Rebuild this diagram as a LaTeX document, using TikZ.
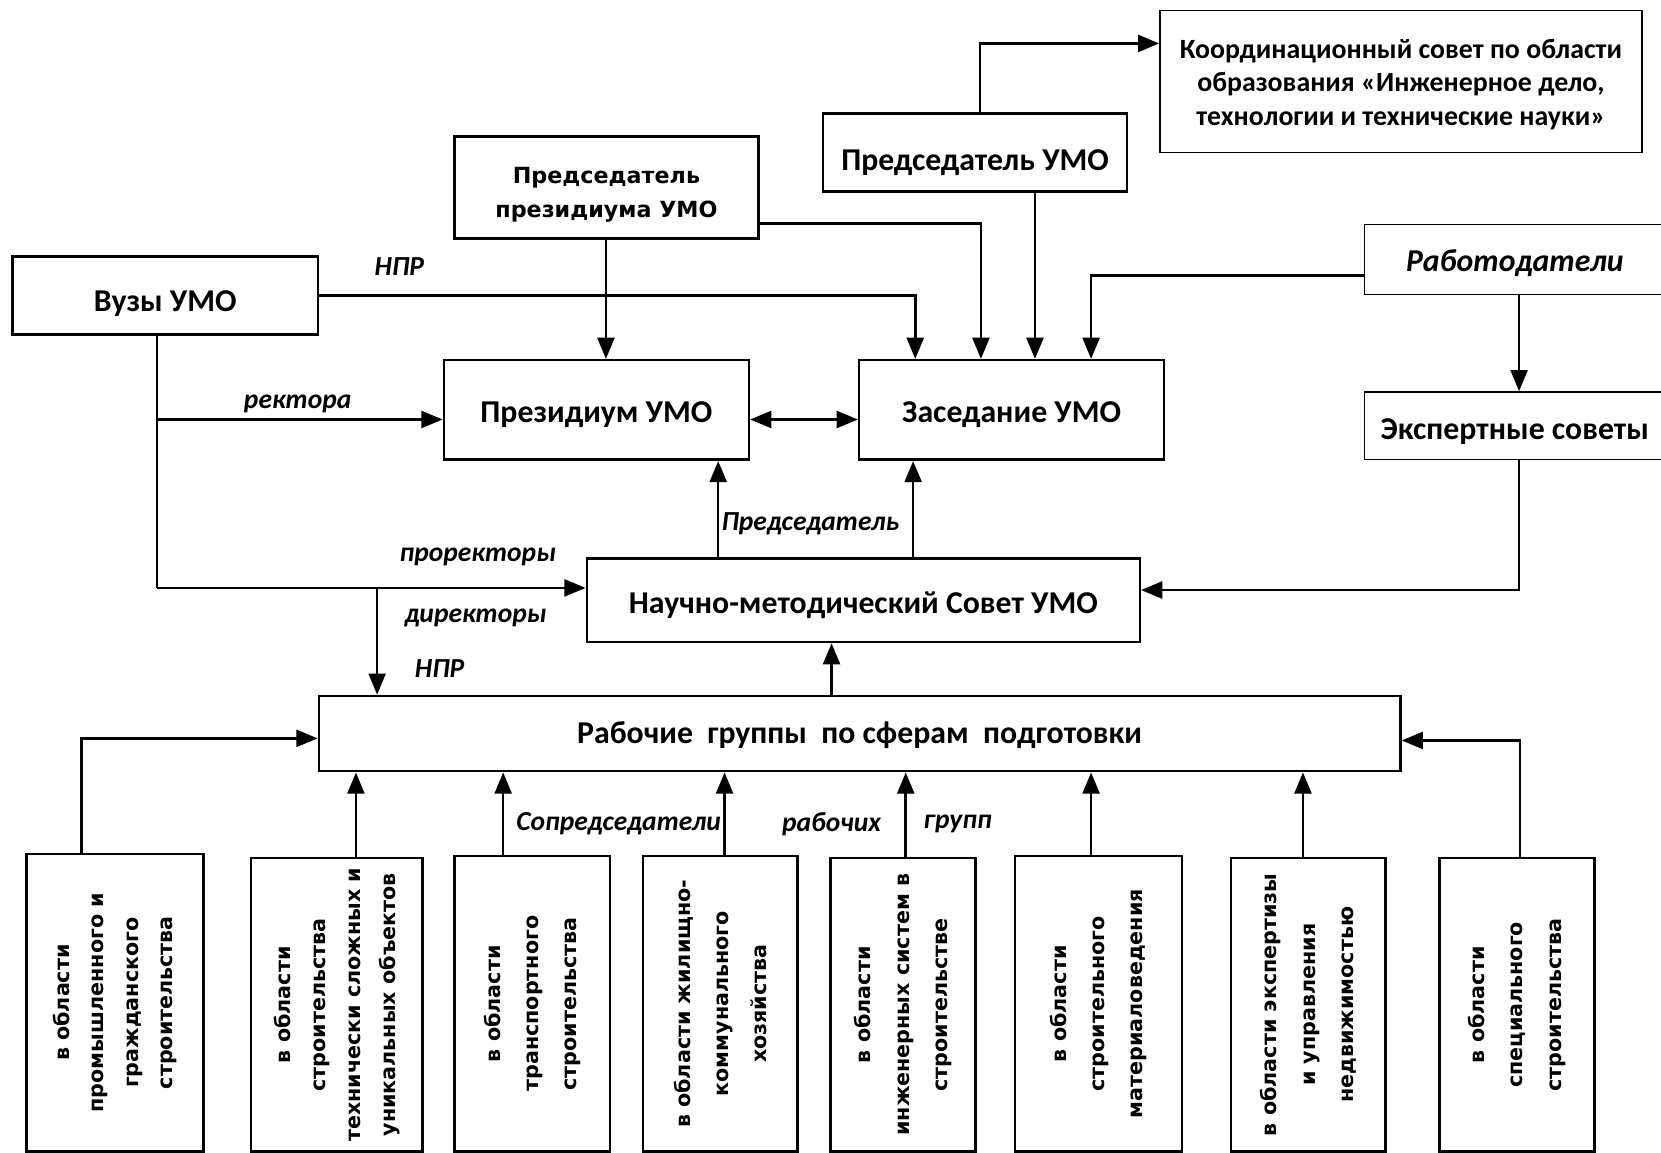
\documentclass[tikz,border=0pt]{standalone}
\usepackage{fontspec}
\setmainfont{Carlito}
\newfontfamily\verd{DejaVu Sans}
\usetikzlibrary{arrows.meta}

\begin{document}
\begin{tikzpicture}[x=1pt,y=-1pt,
	box/.style={draw, line width=2.4pt, inner sep=0pt, align=center, font=\fontsize{30}{34}\selectfont\bfseries},
	thinbox/.style={box, line width=1.4pt},
	tx/.style={text height=#1, text depth=0pt},
	vbox/.style={draw, line width=2.4pt, inner sep=0pt, align=center, rotate=90, font=\verd\bfseries\fontsize{19.5}{36}\selectfont},
	lbl/.style={inner sep=0pt, font=\fontsize{26}{30}\selectfont\bfseries\itshape},
	arr/.style={line width=2.4pt, -{Triangle[length=20pt,width=16pt]}},
	dbl/.style={line width=2.4pt, {Triangle[length=20pt,width=16pt]}-{Triangle[length=20pt,width=16pt]}}]
	\useasboundingbox (0,0) rectangle (1568,1088);
	
	%Upper boxes
	\node[thinbox, tx=82pt, minimum width=455pt, minimum height=134pt, font=\fontsize{26.3}{31.5}\selectfont\bfseries] (koord) at (1322.5,77)
		{\begin{tabular}[b]{@{}c@{}}Координационный совет по области\\образования «Инженерное дело,\\технологии и технические науки»\end{tabular}};
	\node[box, tx=33pt, minimum width=287pt, minimum height=74pt] (predUMO) at (920.5,144) {Председатель УМО};
	\node[box, tx=57pt, minimum width=287pt, minimum height=96pt, font=\verd\bfseries\fontsize{21}{32}\selectfont] (predPrez) at (572.5,177)
		{\begin{tabular}[b]{@{}c@{}}Председатель\\президиума УМО\end{tabular}};
	\node[box, tx=30pt, minimum width=288pt, minimum height=74pt] (vuzy) at (156,279) {Вузы УМО};
	\node[thinbox, tx=23pt, minimum width=284pt, minimum height=66pt, font=\fontsize{30}{34}\selectfont\bfseries\itshape] (rabotod) at (1430,245) {Работодатели};
	\node[thinbox, tx=25pt, minimum width=284pt, minimum height=64pt] (eksp) at (1430,402) {Экспертные советы};
	
	%Middle boxes
	\node[box, tx=23pt, minimum width=288pt, minimum height=94pt] (prez) at (563,387) {Президиум УМО};
	\node[box, tx=23pt, minimum width=288pt, minimum height=94pt] (zased) at (955,387) {Заседание УМО};
	\node[box, tx=25pt, minimum width=522pt, minimum height=79pt] (nauch) at (815,566.5) {Научно-методический Совет УМО};
	\node[box, tx=18pt, minimum width=1021pt, minimum height=71pt] (rabgr) at (811.5,692.5) {Рабочие\ \ группы\ \ по сферам\ \ подготовки};
	
	%Working groups
	\node[vbox, minimum width=281pt, minimum height=167pt, font=\verd\bfseries\fontsize{19.5}{32.5}\selectfont] (b1) at (108.5,946.5)
		{в области\\промышленного и\\гражданского\\строительства};
	\node[vbox, minimum width=277pt, minimum height=162pt, font=\verd\bfseries\fontsize{19.5}{33}\selectfont] (b2) at (318,948.5)
		{в области\\строительства\\технически сложных и\\уникальных объектов};
	\node[vbox, minimum width=279pt, minimum height=147pt] (b3) at (502.5,947.5) {в области\\транспортного\\строительства};
	\node[vbox, minimum width=279pt, minimum height=146pt] (b4) at (680,947.5) {в области жилищно-\\коммунального\\хозяйства};
	\node[vbox, minimum width=277pt, minimum height=137pt] (b5) at (852.5,948.5) {в области\\инженерных систем в\\строительстве};
	\node[vbox, minimum width=279pt, minimum height=158pt] (b6) at (1037,947.5) {в области\\строительного\\материаловедения};
	\node[vbox, minimum width=277pt, minimum height=146pt] (b7) at (1235,948.5) {в области экспертизы\\и управления\\недвижимостью};
	\node[vbox, minimum width=277pt, minimum height=146pt] (b8) at (1432,948.5) {в области\\специального\\строительства};
	
	%Labels
	\node[lbl] (lnpr) at (377,252) {НПР};
	\node[lbl] (lrekt) at (281,381) {ректора};
	\node[lbl] (lprorekt) at (451,526) {проректоры};
	\node[lbl] (ldir) at (449,583) {директоры};
	\node[lbl] (lnpr2) at (415,631) {НПР};
	\node[lbl] (lpred) at (765,494) {Председатель};
	\node[lbl] (lsopred) at (584,778) {Сопредседатели};
	\node[lbl] (lrab) at (785,778) {рабочих};
	\node[lbl] (lgrupp) at (904,778) {групп};
	
	%Connectors at the top
	\draw[arr] (925,0 |- predUMO.north) |- (koord.west |- 0,41);
	\draw[arr] (977,0 |- predUMO.south) -- (977,0 |- zased.north);
	\draw[arr] (predPrez.east |- 0,211) -| (926,0 |- zased.north);
	\draw[arr] (572,0 |- predPrez.south) -- (572,0 |- prez.north);
	\draw[arr] (vuzy.east) -| (864,0 |- zased.north);
	\draw[arr] (rabotod.west |- 0,260) -| (1030,0 |- zased.north);
	\draw[arr] (1434,0 |- rabotod.south) -- (1434,0 |- eksp.north);
	\draw[arr] (1434,0 |- eksp.south) |- (nauch.east |- 0,557);
	
	%Vuzy UMO branches
	\coordinate (vz1) at (148,396);
	\coordinate (vz2) at (148,555);
	\coordinate (vz3) at (356,555);
	\draw[line width=2.4pt] (148,0 |- vuzy.south) -- (vz2);
	\draw[arr] (vz1) -- (prez.west |- vz1);
	\draw[arr] (vz2) -- (nauch.west |- vz2);
	\draw[arr] (vz3) -- (356,0 |- rabgr.north);
	
	%Between the councils
	\draw[dbl] (prez.east |- 0,396) -- (zased.west |- 0,396);
	\draw[arr] (678,0 |- nauch.north) -- (678,0 |- prez.south);
	\draw[arr] (862,0 |- nauch.north) -- (862,0 |- zased.south);
	\draw[arr] (785,0 |- rabgr.north) -- (785,0 |- nauch.south);
	
	%Working groups up
	\draw[arr] (77,0 |- b1.east) |- (rabgr.west |- 0,697);
	\draw[arr] (336,0 |- b2.east) -- (336,0 |- rabgr.south);
	\draw[arr] (475,0 |- b3.east) -- (475,0 |- rabgr.south);
	\draw[arr] (684,0 |- b4.east) -- (684,0 |- rabgr.south);
	\draw[arr] (855,0 |- b5.east) -- (855,0 |- rabgr.south);
	\draw[arr] (1030,0 |- b6.east) -- (1030,0 |- rabgr.south);
	\draw[arr] (1230,0 |- b7.east) -- (1230,0 |- rabgr.south);
	\draw[arr] (1435,0 |- b8.east) |- (rabgr.east |- 0,699);
\end{tikzpicture}
\end{document}
